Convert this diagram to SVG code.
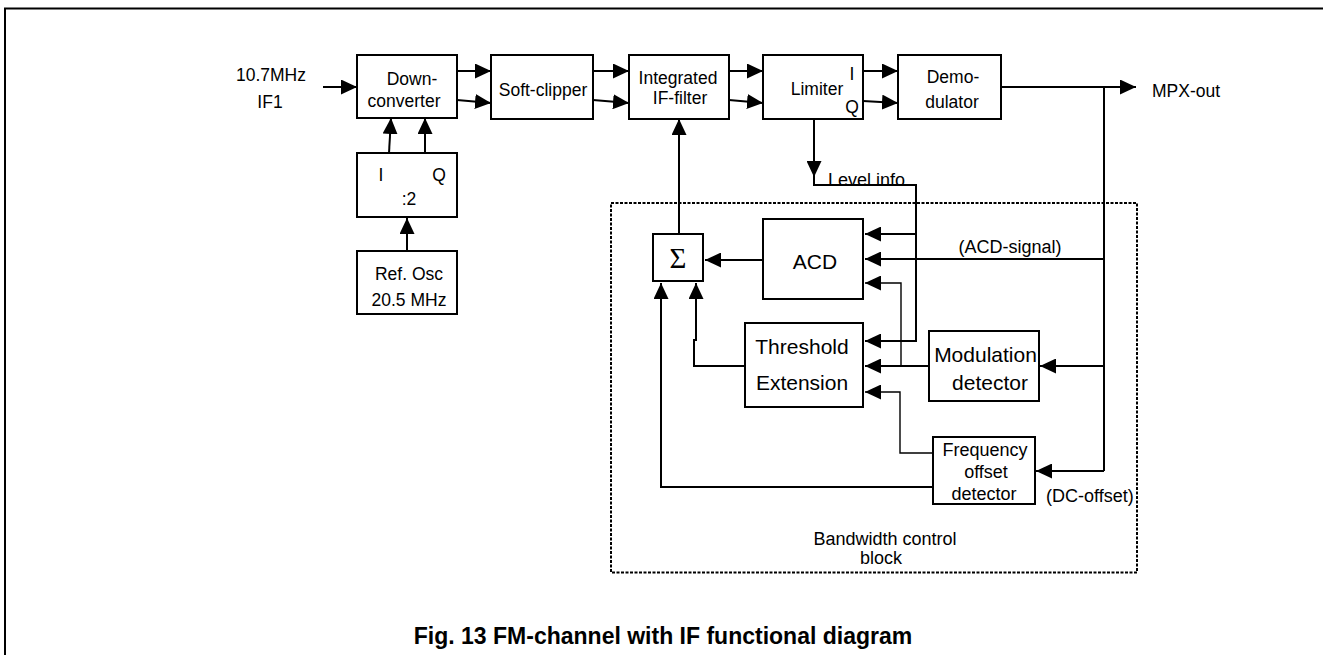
<svg xmlns="http://www.w3.org/2000/svg" width="1323" height="655" viewBox="0 0 1323 655">
<style>
.box{fill:#fff;stroke:#000;stroke-width:2}
.ln{fill:none;stroke:#000;stroke-width:2}
.thin{fill:none;stroke:#000;stroke-width:1.4}
.t{font-family:"Liberation Sans",Arial,sans-serif;font-size:17.5px;fill:#000}
.m{text-anchor:middle}
.big{font-size:21px}
.mid{font-size:18px}
.ttl{font-size:23px;font-weight:bold}
</style>
<defs>
<marker id="ah" viewBox="0 0 16 15" refX="16" refY="7.5" markerWidth="16" markerHeight="15" markerUnits="userSpaceOnUse" orient="auto">
<path d="M0,0 L16,7.5 L0,15 z" fill="#000"/>
</marker>
</defs>
<rect x="5" y="8.5" width="1330" height="660" fill="#fff" stroke="#000" stroke-width="2"/>
<g id="bandwidth-block">
<rect x="611" y="203" width="526" height="369.5" fill="none" stroke="#000" stroke-width="2" stroke-dasharray="3 1.5"/>
<text class="t mid m" x="885" y="545">Bandwidth control</text>
<text class="t mid m" x="881" y="564">block</text>
</g>
<g id="connectors">
<path class="ln" d="M323,87 H357" marker-end="url(#ah)"/>
<path class="ln" d="M457,71 H491" marker-end="url(#ah)"/>
<path class="ln" d="M457,100 L491,103" marker-end="url(#ah)"/>
<path class="ln" d="M593,71 H629" marker-end="url(#ah)"/>
<path class="ln" d="M593,100 L629,103" marker-end="url(#ah)"/>
<path class="ln" d="M729,71 H763" marker-end="url(#ah)"/>
<path class="ln" d="M729,100 L763,103" marker-end="url(#ah)"/>
<path class="ln" d="M863,71 H898" marker-end="url(#ah)"/>
<path class="ln" d="M863,101 L898,103" marker-end="url(#ah)"/>
<path class="ln" d="M1001,87 H1136" marker-end="url(#ah)"/>
<path class="ln" d="M1104,87 V471"/>
<path class="ln" d="M389,153 L391,118" marker-end="url(#ah)"/>
<path class="ln" d="M425,153 V118" marker-end="url(#ah)"/>
<path class="ln" d="M407,251 V218" marker-end="url(#ah)"/>
<path class="ln" d="M679,234 V119" marker-end="url(#ah)"/>
<path class="ln" d="M814,119 V177" marker-end="url(#ah)"/>
<path class="ln" d="M814,177 V185 H916 V341 H865" marker-end="url(#ah)"/>
<path class="ln" d="M916,234 H865" marker-end="url(#ah)"/>
<path class="ln" d="M1104,259 H865" marker-end="url(#ah)"/>
<path class="ln" d="M763,260 H705" marker-end="url(#ah)"/>
<path class="ln" d="M929,366 H865" marker-end="url(#ah)"/>
<path class="thin" d="M901,366 V283 H865" marker-end="url(#ah)"/>
<path class="ln" d="M1104,366 H1040" marker-end="url(#ah)"/>
<path class="ln" d="M1104,471 H1036" marker-end="url(#ah)"/>
<path class="thin" d="M933,453 H900 V392 H865" marker-end="url(#ah)"/>
<path class="ln" d="M745,366 H694 V340 H696 V283" marker-end="url(#ah)"/>
<path class="ln" d="M933,487 H661 V283" marker-end="url(#ah)"/>
</g>
<g id="input-label">
<text class="t m" x="271" y="81">10.7MHz</text>
<text class="t m" x="270" y="108">IF1</text>
</g>
<g id="downconverter">
<rect class="box" x="357" y="55" width="100" height="63"/>
<text class="t m" x="412" y="85">Down-</text>
<text class="t m" x="404" y="107">converter</text>
</g>
<g id="soft-clipper">
<rect class="box" x="491" y="55" width="102" height="64"/>
<text class="t m" x="543" y="96">Soft-clipper</text>
</g>
<g id="if-filter">
<rect class="box" x="629" y="55" width="100" height="64"/>
<text class="t m" x="678" y="84">Integrated</text>
<text class="t m" x="680" y="104">IF-filter</text>
</g>
<g id="limiter">
<rect class="box" x="763" y="55" width="100" height="64"/>
<text class="t m" x="817" y="95">Limiter</text>
<text class="t m" x="852" y="80">I</text>
<text class="t m" x="852" y="113">Q</text>
</g>
<g id="demodulator">
<rect class="box" x="898" y="55" width="103" height="64"/>
<text class="t m" x="953" y="83">Demo-</text>
<text class="t m" x="952" y="108">dulator</text>
</g>
<g id="mpx-out">
<text class="t" x="1152" y="97">MPX-out</text>
</g>
<g id="divider">
<rect class="box" x="357" y="153" width="100" height="64"/>
<text class="t m" x="381" y="181">I</text>
<text class="t m" x="439" y="181">Q</text>
<text class="t m" x="409" y="205">:2</text>
</g>
<g id="ref-osc">
<rect class="box" x="357" y="251" width="100" height="63"/>
<text class="t m" x="409" y="280">Ref. Osc</text>
<text class="t m" x="409" y="306">20.5 MHz</text>
</g>
<g id="sum">
<rect class="box" x="653" y="234" width="50" height="47"/>
<text class="m" x="678" y="268" font-family="'Liberation Serif',serif" font-size="29">Σ</text>
</g>
<g id="acd">
<rect class="box" x="763" y="219" width="100" height="80"/>
<text class="t big m" x="815" y="269">ACD</text>
</g>
<g id="level-info">
<text class="t mid" x="828" y="186">Level info</text>
</g>
<g id="acd-signal">
<text class="t mid m" x="1010" y="253">(ACD-signal)</text>
</g>
<g id="threshold">
<rect class="box" x="745" y="323" width="118" height="84"/>
<text class="t big m" x="802" y="354">Threshold</text>
<text class="t big m" x="802" y="390">Extension</text>
</g>
<g id="modulation">
<rect class="box" x="929" y="331" width="110" height="70"/>
<text class="t big m" x="985.5" y="362">Modulation</text>
<text class="t big m" x="990" y="390">detector</text>
</g>
<g id="freq-offset">
<rect class="box" x="933" y="437" width="102" height="67"/>
<text class="t mid m" x="985" y="456">Frequency</text>
<text class="t mid m" x="986" y="478">offset</text>
<text class="t mid m" x="984" y="500">detector</text>
</g>
<g id="dc-offset">
<text class="t mid" x="1046" y="502">(DC-offset)</text>
</g>
<g id="title">
<text class="t ttl m" x="663" y="644">Fig. 13 FM-channel with IF functional diagram</text>
</g>
</svg>
